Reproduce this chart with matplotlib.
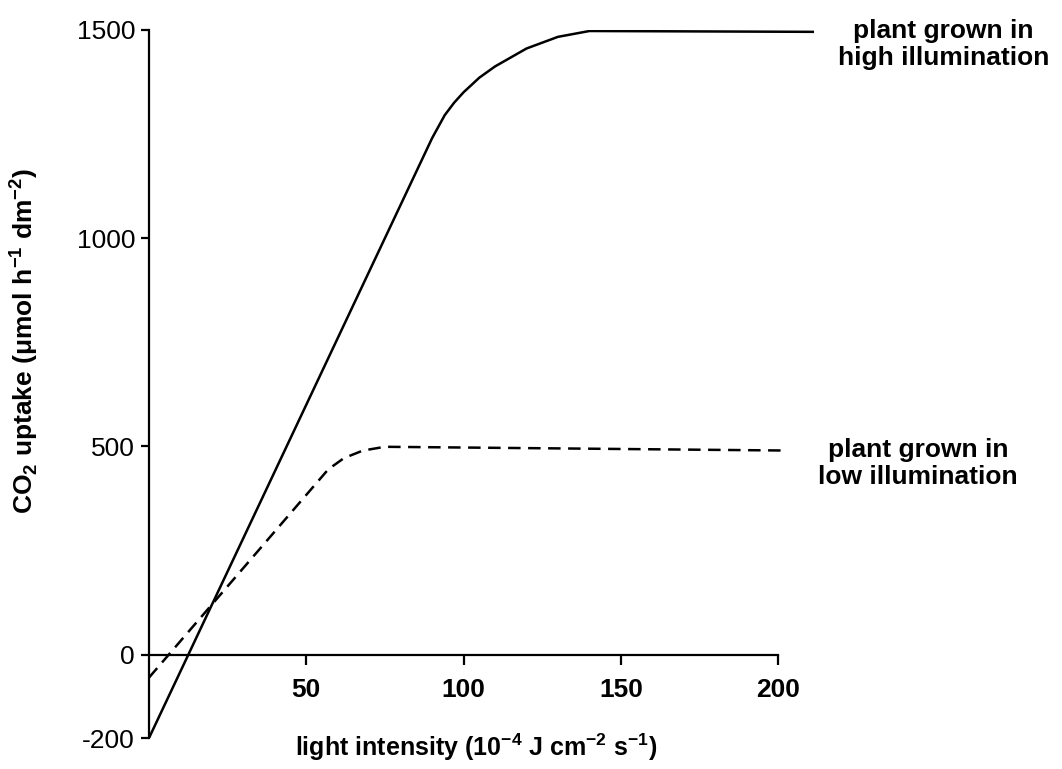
import matplotlib
matplotlib.use('Agg')
import matplotlib.pyplot as plt

plt.rcParams['font.family'] = ['Liberation Sans', 'DejaVu Sans']
plt.rcParams['mathtext.fontset'] = 'custom'
plt.rcParams['mathtext.rm'] = 'Liberation Sans:bold'
plt.rcParams['mathtext.bf'] = 'Liberation Sans:bold'

# high illumination curve
high_x = [0, 90, 94, 97, 100, 105, 110, 120, 130, 140, 211]
high_y = [-200, 1240, 1295, 1325, 1350, 1385, 1412, 1455, 1483, 1497, 1495]
# low illumination curve
low_x = [0, 57, 62, 68, 75, 203]
low_y = [-55, 445, 472, 490, 499, 490]

xticks = [50, 100, 150, 200]
yticks = [-200, 0, 500, 1000, 1500]

fig = plt.figure(figsize=(10.62, 7.69), dpi=100)
ax = fig.add_axes([0.1403, 0.0403, 0.628, 0.921])

ax.plot(high_x, high_y, color='black', linewidth=1.8)
ax.plot(low_x, low_y, color='black', linewidth=1.8, dashes=(5, 3))

ax.set_xlim(0, 212)
ax.set_ylim(-200, 1500)

ax.spines['top'].set_visible(False)
ax.spines['right'].set_visible(False)
ax.spines['bottom'].set_position(('data', 0))
ax.spines['bottom'].set_bounds(0, 200)
ax.spines['left'].set_bounds(-200, 1500)
ax.spines['bottom'].set_linewidth(1.6)
ax.spines['left'].set_linewidth(1.6)

ax.set_xticks(xticks)
ax.set_yticks(yticks)
ax.set_yticklabels([str(v) for v in yticks], fontsize=19)
ax.set_xticklabels([str(v) for v in xticks], fontsize=19, fontweight='bold')
ax.tick_params(axis='x', direction='out', length=7, width=1.6, pad=10)
ax.tick_params(axis='y', direction='out', length=6, width=1.6, pad=4)

ax.text(104, -223, r'light intensity (10$^{-4}$ J cm$^{-2}$ s$^{-1}$)',
        ha='center', va='center', fontsize=18, fontweight='bold', clip_on=False)
fig.text(0.0226, 0.557, r'CO$_2$ uptake ($\mathregular{\mu}$mol h$^{-1}$ dm$^{-2}$)',
         rotation=90, ha='center', va='center', fontsize=19, fontweight='bold')

ax.text(252.5, 1464, 'plant grown in\nhigh illumination', ha='center', va='center',
        fontsize=19, fontweight='bold', clip_on=False, linespacing=1.15)
ax.text(244.5, 459, 'plant grown in\nlow illumination', ha='center', va='center',
        fontsize=19, fontweight='bold', clip_on=False, linespacing=1.15)

fig.savefig('out.png', dpi=100)
